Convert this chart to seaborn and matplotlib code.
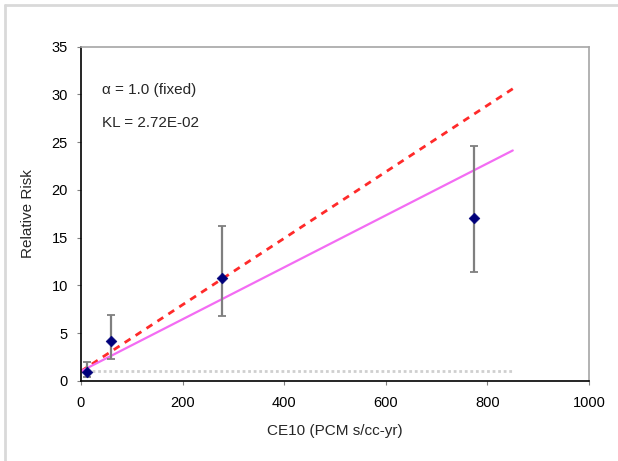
import numpy as np
import pandas as pd
import matplotlib
matplotlib.use("Agg")
import matplotlib.pyplot as plt
import seaborn as sns

# Observed relative risk by cumulative exposure group
ce10 = [12, 60, 277, 774]
rr = [0.94, 4.16, 10.73, 17.0]
rr_lower = [0.36, 2.31, 6.8, 11.4]
rr_upper = [1.96, 6.89, 16.2, 24.6]

# Model parameters
alpha = 1.0
kl = 2.72e-02
free_slope = 0.0348
fit_x = [0, 850]

sns.set_theme(style="white")
plt.rcParams["font.family"] = ["Liberation Sans", "DejaVu Sans"]

fig = plt.figure(figsize=(6.18, 4.61), dpi=100)
ax = fig.add_axes([0.131, 0.174, 0.822, 0.725])

# Outer chart frame (left and top edges)
fig.add_artist(plt.Line2D([5 / 618, 5 / 618], [0, 1 - 5 / 461],
                          transform=fig.transFigure, color="#d9d9d9", lw=2))
fig.add_artist(plt.Line2D([5 / 618, 1], [1 - 5 / 461, 1 - 5 / 461],
                          transform=fig.transFigure, color="#d9d9d9", lw=2))

fit = pd.DataFrame({
    "x": fit_x,
    "baseline": [1.0, 1.0],
    "fixed": [alpha + kl * v for v in fit_x],
    "free": [alpha + free_slope * v for v in fit_x],
})

sns.lineplot(data=fit, x="x", y="baseline", ax=ax, color="#cfcfcf",
             lw=2, linestyle=(0, (1, 1)))
sns.lineplot(data=fit, x="x", y="free", ax=ax, color="#ff2a2a",
             lw=2, linestyle=(0, (2.5, 2.2)))
sns.lineplot(data=fit, x="x", y="fixed", ax=ax, color="#f36cf3", lw=1.6)

yerr = np.array([np.array(rr) - np.array(rr_lower),
                 np.array(rr_upper) - np.array(rr)])
ax.errorbar(ce10, rr, yerr=yerr, fmt="none", ecolor="#7f7f7f",
            elinewidth=1.6, capsize=3, capthick=1.3, zorder=3)
sns.scatterplot(x=ce10, y=rr, ax=ax, marker="D", s=30, color="#00007a",
                edgecolor="#00007a", zorder=4)

ax.set_xlim(0, 1000)
ax.set_ylim(0, 35)
ax.set_xticks(range(0, 1001, 200))
ax.set_yticks(range(0, 36, 5))
ax.tick_params(axis="both", labelsize=10.5, length=3, width=0.8,
               color="#808080", colors="black", direction="out")
ax.tick_params(axis="x", pad=8)
ax.tick_params(axis="y", pad=6.5)
ax.tick_params(axis="both", which="both", bottom=True, left=True)

for side in ["left", "bottom"]:
    ax.spines[side].set_color("black")
    ax.spines[side].set_linewidth(1.2)
for side in ["top", "right"]:
    ax.spines[side].set_color("#a6a6a6")
    ax.spines[side].set_linewidth(1.2)

ax.set_xlabel("CE10 (PCM s/cc-yr)", fontsize=11, labelpad=10)
ax.set_ylabel("Relative Risk", fontsize=11, labelpad=12)

ax.text(42, 30.5, "\u03b1 = 1.0 (fixed)", fontsize=11, va="center")
ax.text(42, 27.0, f"KL = {kl:.2E}", fontsize=11, va="center")

fig.savefig("out.png", dpi=100)
